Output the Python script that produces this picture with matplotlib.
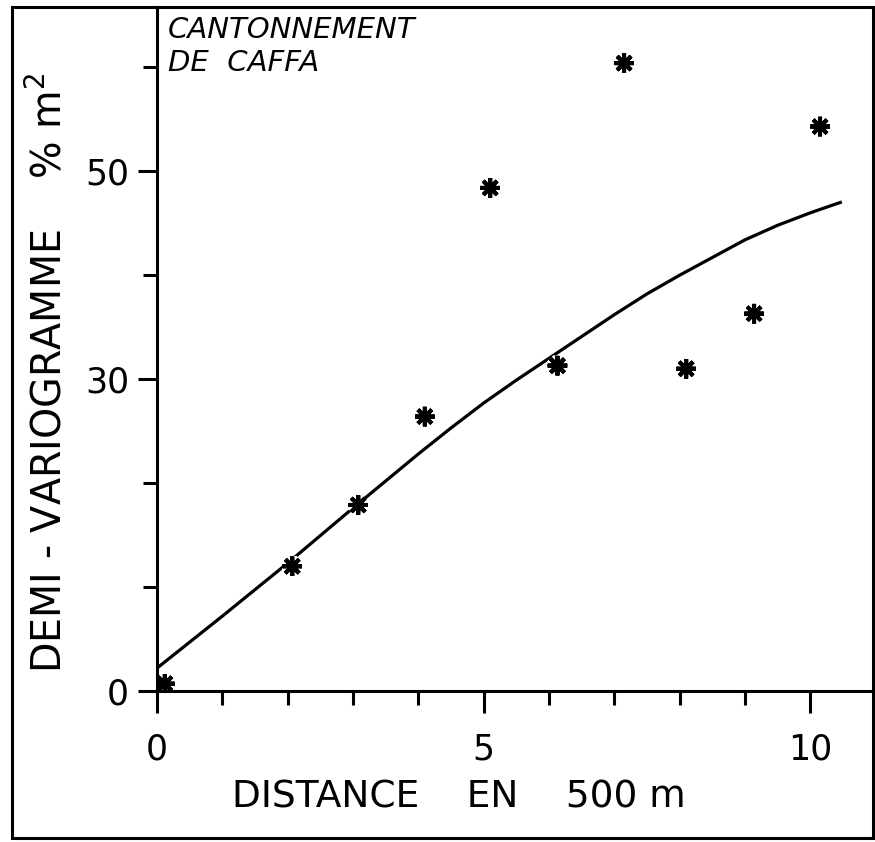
import matplotlib
matplotlib.use("Agg")
import matplotlib.pyplot as plt
import matplotlib.patheffects as pe
from matplotlib.patches import Rectangle

# experimental semi-variogram points (distance in 500 m steps, % m2)
dist_pts = [0.12, 2.07, 3.08, 4.1, 5.1, 6.13, 7.15, 8.1, 9.14, 10.15]
gamma_pts = [0.7, 12.0, 17.9, 26.4, 48.4, 31.3, 60.4, 31.0, 36.3, 54.3]

# fitted model
dist_fit = [0.0, 1.0, 2.0, 3.0, 4.0, 4.5, 5.0, 5.5, 6.0, 6.5, 7.0, 7.5,
            8.0, 8.5, 9.0, 9.5, 10.0, 10.46]
gamma_fit = [2.2, 7.2, 12.3, 17.6, 22.8, 25.3, 27.7, 29.9, 32.0, 34.1, 36.2,
             38.2, 40.0, 41.7, 43.4, 44.8, 46.0, 47.0]

x_major = [0, 5, 10]
x_minor = [1, 2, 3, 4, 6, 7, 8, 9]
y_major = [0, 30, 50]
y_minor = [10, 20, 40, 60]

plt.rcParams["font.family"] = ["DejaVu Sans"]

fig = plt.figure(figsize=(8.75, 8.42), dpi=100)
ax = fig.add_axes([157 / 875, 151 / 842, 716 / 875, 684 / 842])

ax.plot(dist_fit, gamma_fit, color="black", lw=2.3, zorder=2)
ax.plot(dist_pts, gamma_pts, linestyle="none", marker=(8, 2, 0), ms=14,
        mew=2.8, color="black", zorder=3,
        path_effects=[pe.withStroke(linewidth=7, foreground="white"), pe.Normal()])

ax.set_xlim(0, 10.96)
ax.set_ylim(0, 65.8)

for s in ["top", "right"]:
    ax.spines[s].set_visible(False)
for s in ["left", "bottom"]:
    ax.spines[s].set_linewidth(2.2)
    ax.spines[s].set_zorder(4)

ax.set_xticks(x_major)
ax.set_xticks(x_minor, minor=True)
ax.set_xticklabels([str(v) for v in x_major])
ax.set_yticks(y_major)
ax.set_yticks(y_minor, minor=True)
ax.set_yticklabels([str(v) for v in y_major])

ax.tick_params(axis="x", which="major", direction="out", length=16, width=2.2,
               pad=14, labelsize=25)
ax.tick_params(axis="x", which="minor", direction="out", length=10, width=2.2)
ax.tick_params(axis="y", which="major", direction="out", length=14, width=2.2,
               pad=6, labelsize=25)
ax.tick_params(axis="y", which="minor", direction="out", length=10, width=2.2)

ax.text(11 / 716, 1 - 9 / 684, "CANTONNEMENT\nDE  CAFFA", transform=ax.transAxes,
        ha="left", va="top", fontsize=21, style="italic", linespacing=1.25)

fig.text(232 / 875, 34 / 842, "DISTANCE    EN    500 m", ha="left",
         va="baseline", fontsize=27)
fig.text(29 / 875, 169 / 842, "DEMI - VARIOGRAMME    % m$^2$", rotation=90,
         ha="left", va="bottom", fontsize=28.5)

# outer frame of the original figure
fig.patches.append(Rectangle((12 / 875, 4 / 842), 861 / 875, 831 / 842,
                             transform=fig.transFigure, fill=False,
                             edgecolor="black", lw=2.2))

fig.savefig("out.png", dpi=100)
